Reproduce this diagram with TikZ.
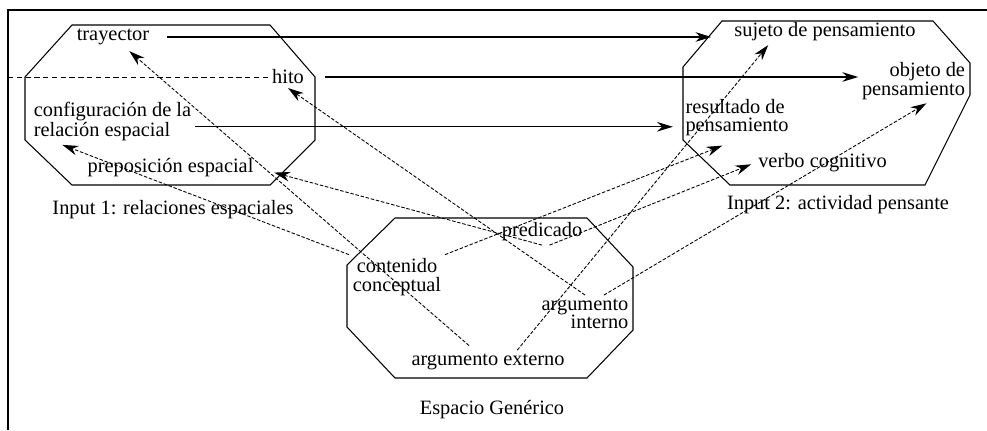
\documentclass[tikz,border=0pt]{standalone}
\usepackage{fontspec}
\setmainfont{Liberation Serif}
\usetikzlibrary{arrows.meta}

\begin{document}
\begin{tikzpicture}[x=0.02cm,y=-0.02cm,espacio/.style={draw=black,line width=0.6pt},concepto/.style={font=\fontsize{11.6}{10.5}\selectfont,inner sep=2pt},proyeccion/.style={line width=0.6pt,-{Stealth[length=9pt,width=5.5pt]}},correspondencia/.style={line width=0.5pt,dash pattern=on 2pt off 1pt,-{Stealth[length=9pt,width=5.5pt]}}]
\useasboundingbox (0,0) rectangle (987,430);
\draw[line width=0.6pt] (987,10) -- (8,10) -- (8,430);
% los tres espacios
\draw[espacio] (72,25) -- (270,25) -- (315,77) -- (315,140) -- (270,185) -- (72,185) -- (25,140) -- (25,77) -- cycle;
\draw[espacio] (722,21) -- (933,21) -- (970,63) -- (970,95) -- (925,185) -- (730,185) -- (683,140) -- (683,67) -- cycle;
\draw[espacio] (395,218) -- (587,218) -- (633,267) -- (633,330) -- (587,378) -- (395,378) -- (347,327) -- (347,265) -- cycle;
\node[concepto] (T) at (113,37) {trayector};
\node[concepto] (H) at (288,77) {hito};
\node[concepto,align=left] (CR) at (112.5,121.5) {configuración de la\\relación espacial};
\node[concepto] (P) at (170.5,168) {preposición espacial};
\node[concepto] (I1) at (173,210) {Input 1: relaciones espaciales};
\node[concepto] (ST) at (825,32) {sujeto de pensamiento};
\node[concepto,align=right] (OP) at (913.5,81) {objeto de\\pensamiento};
\node[concepto,align=left] (RP) at (737,117.5) {resultado de\\pensamiento};
\node[concepto] (VC) at (822.5,163) {verbo cognitivo};
\node[concepto] (I2) at (838,205) {Input 2: actividad pensante};
\node[concepto] (PR) at (542,232) {predicado};
\node[concepto,align=center] (CC) at (397,277) {contenido\\conceptual};
\node[concepto,align=right] (AI) at (585,314) {argumento\\interno};
\node[concepto] (AE) at (488,362) {argumento externo};
\node[concepto] (EG) at (492,410) {Espacio Genérico};
\draw[line width=0.4pt,dash pattern=on 3pt off 2pt] (8,77) -- (H.west);
% proyecciones entre los inputs
\draw[proyeccion,shorten <=8pt,shorten >=11pt] (T.east) -- (T.east -| ST.west);
\draw[proyeccion,shorten <=10pt] (H.east) -- (H.east -| OP.west);
\draw[proyeccion,shorten >=5pt] ([yshift=-3pt]CR.east) -- ([yshift=-3pt]CR.east -| RP.west);
% correspondencias desde el espacio generico
\draw[correspondencia,shorten <=4pt,shorten >=2pt] (AE) -- (T);
\draw[correspondencia] (AI.north) -- (H.south);
\draw[correspondencia,shorten >=10pt] (PR.south) -- (P.east);
\draw[correspondencia] (CC.north west) -- (CR.-155);
\draw[correspondencia,shorten >=9pt] (CC.north east) -- (RP.south);
\draw[correspondencia] (AE.22) -- (ST.-167);
\draw[correspondencia] (AI.45) -- (OP.-60);
\draw[correspondencia,shorten >=2pt] (PR.-60) -- (VC.west);
\end{tikzpicture}
\end{document}
